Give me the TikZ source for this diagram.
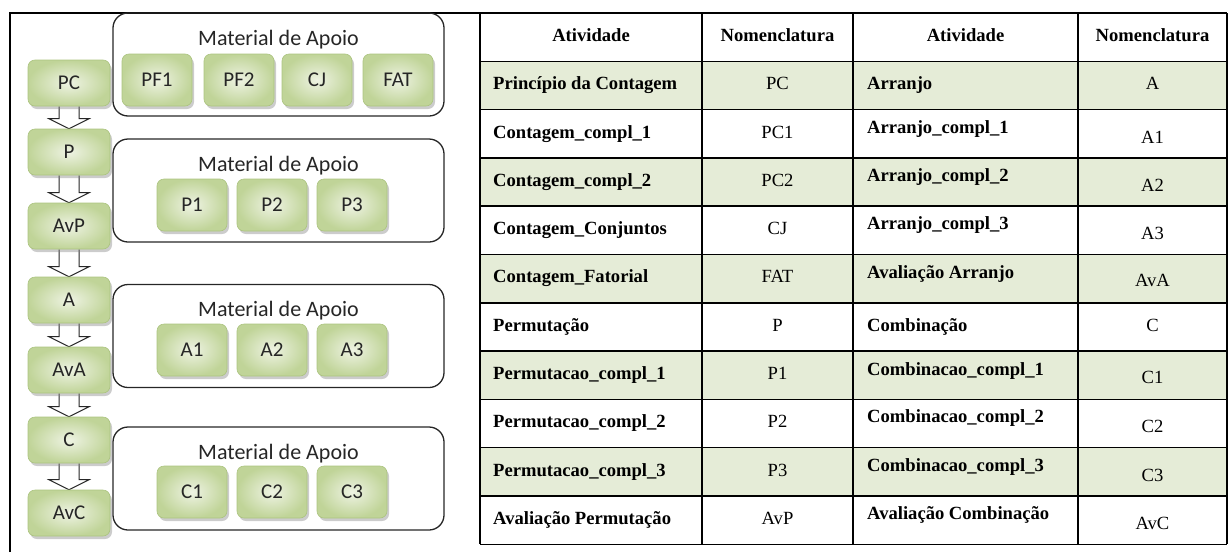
\documentclass[tikz,border=0pt]{standalone}
\usepackage{fontspec}
\setmainfont{Liberation Serif}
\newfontfamily\calib{Carlito}
\usetikzlibrary{shadows,backgrounds,calc}
\definecolor{gin}{RGB}{238,243,227}
\definecolor{gout}{RGB}{192,212,152}
\definecolor{gedge}{RGB}{172,196,128}
\definecolor{rowgreen}{RGB}{229,236,215}

% hollow block arrow from the bottom of one step to the top of the next
\newcommand\flowarrow[2]{%
  \draw[blockarrow] ([xshift=-10pt]#1.south) -- ([xshift=-10pt,yshift=10pt]#2.north)
    -- ([xshift=-20pt,yshift=10pt]#2.north) -- (#2.north)
    -- ([xshift=20pt,yshift=10pt]#2.north) -- ([xshift=10pt,yshift=10pt]#2.north)
    -- ([xshift=10pt]#1.south);}

\begin{document}
\begin{tikzpicture}[x=1pt,y=-1pt,
  greenbox/.style={rectangle, rounded corners=7pt, inner color=gin, outer color=gout,
    draw=gedge, line width=0.6pt,
    drop shadow={shadow xshift=2pt, shadow yshift=-3pt, fill=black!50, opacity=0.4},
    font=\calib\fontsize{21}{24}\selectfont, text=black!85, inner sep=0pt},
  stepnode/.style={greenbox, minimum width=82pt, minimum height=46pt},
  matnode/.style={greenbox, minimum width=70pt, minimum height=52pt},
  apoio/.style={rectangle, rounded corners=15pt, draw=black!85, line width=1.3pt,
    minimum width=331pt, minimum height=103pt, inner sep=0pt},
  apoiotitle/.style={font=\calib\fontsize{22}{24}\selectfont, text=black!85, inner sep=0pt},
  blockarrow/.style={draw=black!85, fill=white, line width=1pt, line join=miter},
  grid/.style={line width=1.5pt, black},
  cellbold/.style={font=\bfseries\fontsize{18.6}{22}\selectfont, inner sep=0pt,
    text height=12.5pt, text depth=4pt},
  cellplain/.style={font=\fontsize{18.6}{22}\selectfont, inner sep=0pt,
    text height=12.5pt, text depth=4pt},
]
\useasboundingbox (0,0) rectangle (1231,552);

% ---- outer frame of the left panel
\draw[grid] (10,552) -- (10,13) -- (480,13);

% ---- support-material containers
\node[apoio] (mat1) at (278.5,64.5) {};
\node[apoio] (mat2) at (278.5,190.5) {};
\node[apoio] (mat3) at (278.5,336) {};
\node[apoio] (mat4) at (278.5,478.5) {};
\foreach \m in {1,2,3,4}
  \node[apoiotitle] (tit\m) at ([yshift=-27pt]mat\m.north) {Material de Apoio};

% ---- sequence of activities
\node[stepnode] (PC)  at (69,83)  {PC};
\node[stepnode] (P)   at (69,152) {P};
\node[stepnode] (AvP) at (69,226) {AvP};
\node[stepnode] (A)   at (69,300) {A};
\node[stepnode] (AvA) at (69,370) {AvA};
\node[stepnode] (C)   at (69,440) {C};
\node[stepnode] (AvC) at (69,513) {AvC};

\begin{scope}[on background layer]
  \flowarrow{PC}{P}
  \flowarrow{P}{AvP}
  \flowarrow{AvP}{A}
  \flowarrow{A}{AvA}
  \flowarrow{AvA}{C}
  \flowarrow{C}{AvC}
\end{scope}

% ---- materials inside each container
\node[matnode] (PF1) at (157,80) {PF1};
\node[matnode] (PF2) at (239,80) {PF2};
\node[matnode] (CJ)  at (317,80) {CJ};
\node[matnode] (FAT) at (398,80) {FAT};

\node[matnode] (P1) at (192,205) {P1};
\node[matnode] (P2) at (272,205) {P2};
\node[matnode] (P3) at (352,205) {P3};

\node[matnode] (A1) at (192,350) {A1};
\node[matnode] (A2) at (272,350) {A2};
\node[matnode] (A3) at (352,350) {A3};

\node[matnode] (C1) at (192,492) {C1};
\node[matnode] (C2) at (272,492) {C2};
\node[matnode] (C3) at (352,492) {C3};

% ---- table of activities
\def\rh{48.3}
\foreach \i/\ta/\na/\tb/\nb/\off in {
  1/Princípio da Contagem/PC/Arranjo/A/0,
  2/Contagem\_compl\_1/PC1/Arranjo\_compl\_1/A1/5,
  3/Contagem\_compl\_2/PC2/Arranjo\_compl\_2/A2/5,
  4/Contagem\_Conjuntos/CJ/Arranjo\_compl\_3/A3/5,
  5/Contagem\_Fatorial/FAT/Avaliação Arranjo/AvA/4,
  6/Permutação/P/Combinação/C/0,
  7/Permutacao\_compl\_1/P1/Combinacao\_compl\_1/C1/4,
  8/Permutacao\_compl\_2/P2/Combinacao\_compl\_2/C2/5,
  9/Permutacao\_compl\_3/P3/Combinacao\_compl\_3/C3/5,
  10/Avaliação Permutação/AvP/Avaliação Combinação/AvC/5}
{
  \pgfmathsetmacro\yt{13+\rh*\i}
  \pgfmathsetmacro\yc{\yt+\rh/2}
  \ifodd\i \fill[rowgreen] (480,\yt) rectangle (1227,\yt+\rh); \fi
  \node[cellbold, anchor=west] (ta\i) at (493,\yc) {\ta};
  \node[cellplain] (na\i) at (777.5,\yc) {\na};
  \node[cellbold, anchor=west] (tb\i) at (867,\yc-\off) {\tb};
  \node[cellplain] (nb\i) at (1152.5,\yc+\off) {\nb};
}

% header row
\node[cellbold] (h1) at (591,37) {Atividade};
\node[cellbold] (h2) at (777.5,37) {Nomenclatura};
\node[cellbold] (h3) at (965.5,37) {Atividade};
\node[cellbold] (h4) at (1152.5,37) {Nomenclatura};

% grid lines
\foreach \k in {0,...,11}
  \draw[grid] (480,13+\rh*\k) -- (1227,13+\rh*\k);
\foreach \x in {480,702,853,1078,1227}
  \draw[grid] (\x,13) -- (\x,13+\rh*11);
\end{tikzpicture}
\end{document}
